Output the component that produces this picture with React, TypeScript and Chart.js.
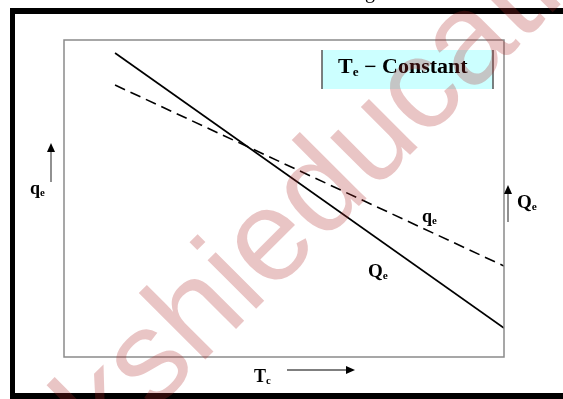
import React, { useEffect, useRef } from "react";
import { Chart, registerables } from "chart.js";

Chart.register(...registerables);

// ---- data (condenser temperature Tc on x, capacities on y, arbitrary units) ----
const tcPoints = [11.6, 100];
const QeValues = [95.9, 9.1]; // solid line, Qe
const qeValues = [85.8, 28.7]; // dashed line, qe
const legendLabel = "Constant";
const watermarkText = "kshieducation";

const W = 563;
const H = 399;

const serif = '"Liberation Serif", "Times New Roman", serif';
const sans = '"Liberation Sans", Arial, sans-serif';

function drawArrow(ctx: CanvasRenderingContext2D, x1: number, y1: number, x2: number, y2: number) {
  const ang = Math.atan2(y2 - y1, x2 - x1);
  const head = 9;
  const hw = 4;
  ctx.save();
  ctx.strokeStyle = "#555";
  ctx.lineWidth = 1.3;
  ctx.beginPath();
  ctx.moveTo(x1, y1);
  ctx.lineTo(x2 - Math.cos(ang) * head * 0.8, y2 - Math.sin(ang) * head * 0.8);
  ctx.stroke();
  ctx.fillStyle = "#000";
  ctx.beginPath();
  ctx.moveTo(x2, y2);
  ctx.lineTo(x2 - Math.cos(ang) * head - Math.sin(ang) * hw, y2 - Math.sin(ang) * head + Math.cos(ang) * hw);
  ctx.lineTo(x2 - Math.cos(ang) * head + Math.sin(ang) * hw, y2 - Math.sin(ang) * head - Math.cos(ang) * hw);
  ctx.closePath();
  ctx.fill();
  ctx.restore();
}

const decorPlugin = {
  id: "decor",
  beforeDatasetsDraw(chart: any) {
    const ctx = chart.ctx as CanvasRenderingContext2D;
    const a = chart.chartArea;
    // legend box (cyan) in upper right of plot
    const bx = a.right - 182;
    const by = a.top + 10;
    const bw = 171;
    const bh = 39;
    ctx.save();
    ctx.fillStyle = "#ccffff";
    ctx.fillRect(bx, by, bw, bh);
    ctx.strokeStyle = "#555";
    ctx.lineWidth = 1.5;
    ctx.beginPath();
    ctx.moveTo(bx, by);
    ctx.lineTo(bx, by + bh);
    ctx.moveTo(bx + bw, by);
    ctx.lineTo(bx + bw, by + bh);
    ctx.stroke();
    ctx.restore();
  },
  afterDraw(chart: any) {
    const ctx = chart.ctx as CanvasRenderingContext2D;
    const a = chart.chartArea;
    ctx.save();
    // plot frame
    ctx.strokeStyle = "#8a8a8a";
    ctx.lineWidth = 1.5;
    ctx.strokeRect(a.left, a.top, a.right - a.left, a.bottom - a.top);
    // outer thick black frame
    ctx.fillStyle = "#000";
    ctx.fillRect(10, 8, W, 6);
    ctx.fillRect(10, 8, 5, H);
    ctx.fillRect(10, 393, W, 6);
    ctx.restore();
    // axis arrows
    drawArrow(ctx, a.left - 13, a.top + 142, a.left - 13, a.top + 103);
    drawArrow(ctx, a.right + 4, a.top + 182, a.right + 4, a.top + 145);
    drawArrow(ctx, a.left + 223, a.bottom + 13, a.left + 291, a.bottom + 13);
  },
};

function Label(props: { x: number; baseline: number; size: number; sx?: number; bold?: boolean; children: any }) {
  const { x, baseline, size, sx = 1, bold = true, children } = props;
  return (
    <div
      style={{
        position: "absolute",
        left: x,
        top: baseline - 0.8375 * size,
        fontFamily: serif,
        fontWeight: bold ? "bold" : "normal",
        fontSize: size,
        lineHeight: `${size}px`,
        whiteSpace: "nowrap",
        color: "#000",
        transform: `scaleX(${sx})`,
        transformOrigin: "0 0",
      }}
    >
      {children}
    </div>
  );
}

const Sub = (p: { c: string }) => (
  <span style={{ fontSize: "0.6em", position: "relative", top: "0.2em" }}>{p.c}</span>
);

export default function App() {
  const ref = useRef<HTMLCanvasElement>(null);
  useEffect(() => {
    if (!ref.current) return;
    const chart = new Chart(ref.current, {
      type: "line",
      data: {
        datasets: [
          {
            label: "Qe",
            data: tcPoints.map((x, i) => ({ x, y: QeValues[i] })),
            borderColor: "#000",
            borderWidth: 1.7,
            pointRadius: 0,
            fill: false,
          },
          {
            label: "qe",
            data: tcPoints.map((x, i) => ({ x, y: qeValues[i] })),
            borderColor: "#000",
            borderWidth: 1.6,
            borderDash: [11, 6],
            pointRadius: 0,
            fill: false,
          },
        ],
      },
      options: {
        responsive: false,
        animation: false,
        devicePixelRatio: 1,
        layout: { padding: { left: 64, top: 40, right: W - 504, bottom: H - 357 } },
        scales: {
          x: { type: "linear", min: 0, max: 100, display: false },
          y: { type: "linear", min: 0, max: 100, display: false },
        },
        plugins: { legend: { display: false }, tooltip: { enabled: false }, title: { display: false } },
      },
      plugins: [decorPlugin],
    });
    return () => chart.destroy();
  }, []);

  const wmSize = 130;
  const wmBase = 0.8465 * wmSize;

  return (
    <div style={{ position: "fixed", left: 0, top: 0, width: W, height: H, overflow: "hidden", background: "#fff" }}>
      <canvas ref={ref} width={W} height={H} style={{ position: "absolute", left: 0, top: 0, width: W, height: H }} />
      <Label x={365} baseline={-2} size={20} bold={false}>
        g
      </Label>
      <Label x={338} baseline={73} size={20} sx={1.1}>
        T<Sub c="e" /> − {legendLabel}
      </Label>
      <Label x={30} baseline={194} size={18}>
        q<Sub c="e" />
      </Label>
      <Label x={517} baseline={208} size={19}>
        Q<Sub c="e" />
      </Label>
      <Label x={422} baseline={222} size={18}>
        q<Sub c="e" />
      </Label>
      <Label x={368} baseline={277} size={19}>
        Q<Sub c="e" />
      </Label>
      <Label x={254} baseline={382} size={18}>
        T<Sub c="c" />
      </Label>
      <div
        style={{
          position: "absolute",
          left: 106.8,
          top: 458.2 - wmBase,
          fontFamily: sans,
          fontSize: wmSize,
          lineHeight: `${wmSize}px`,
          whiteSpace: "nowrap",
          color: "rgba(175,40,40,0.27)",
          transform: "rotate(-45deg)",
          transformOrigin: `0 ${wmBase}px`,
          pointerEvents: "none",
        }}
      >
        {watermarkText}
      </div>
    </div>
  );
}
